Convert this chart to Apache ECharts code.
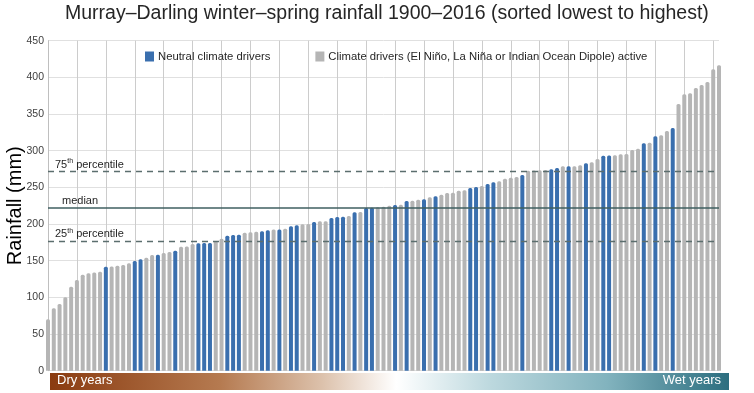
<!DOCTYPE html>
<html>
<head>
<meta charset="utf-8">
<script src="https://cdn.jsdelivr.net/npm/echarts@6/dist/echarts.min.js"></script>
<style>
html,body{margin:0;padding:0;background:#fff;}
#c{width:754px;height:393px;}
</style>
</head>
<body>
<div id="c"></div>
<script>
// Rainfall (mm), sorted lowest to highest, one value per year 1900–2016
const rainfall = [
  70, 85, 91, 100, 114.5, 123.7, 131, 133, 134, 135,
  141.8, 142, 143.2, 144.1, 146.4, 149.6, 151.9, 154.1, 157.8, 158.2,
  160.5, 162, 163.7, 169.1, 169.5, 172.8, 173.7, 174.1, 174.3, 176.9,
  180, 184.1, 185, 185.5, 188.2, 188.7, 189.6, 190, 191.4, 192.5,
  192.7, 193.7, 197, 198.3, 199.6, 200, 202.8, 203.7, 203.9, 208.2,
  209.6, 209.8, 211, 216, 216.4, 221.9, 222.3, 222.8, 223.7, 225,
  226, 226.3, 231.4, 231.8, 233.2, 233.7, 236.4, 237.8, 240, 242.3,
  242.7, 245.5, 246, 249.1, 250.5, 251.9, 254.6, 256.9, 258.3, 261.8,
  263.2, 264.1, 266.9, 272.7, 272.9, 273.2, 273.7, 274.6, 276.4, 278.7,
  278.8, 278.9, 280, 282.8, 284.2, 288.7, 293.2, 293.4, 293.7, 295.1,
  295.5, 301, 302.8, 310.1, 310.9, 319.6, 321, 326.9, 331, 363.7,
  376.9, 378.3, 385.5, 389.6, 393.7, 411, 416.5
];
// N = neutral climate drivers, A = climate drivers active
const driver = [
  'A','A','A','A','A','A','A','A','A','A',
  'N','A','A','A','A','N','N','A','A','N',
  'A','A','N','A','A','A','N','N','N','A',
  'A','N','N','N','A','A','A','N','N','A',
  'N','A','N','N','A','A','N','A','A','N',
  'N','N','A','N','A','N','N','A','A','A',
  'N','A','N','A','A','N','A','N','A','A',
  'A','A','A','N','N','A','N','N','A','A',
  'A','A','N','A','A','A','A','N','N','A',
  'N','A','A','N','A','A','N','N','A','A',
  'A','A','A','N','A','N','A','A','N','A',
  'A','A','A','A','A','A','A'
];
const ranks = rainfall.map((v, i) => String(i + 1));
const seriesNames = ['Neutral climate drivers', 'Climate drivers (El Niño, La Niña or Indian Ocean Dipole) active'];
const percentiles = [177, 222, 272.3]; // 25th, median, 75th
const yTicks = [0, 450, 50]; // min, max, interval

const neutralData = rainfall.map((v, i) => driver[i] === 'N' ? v : '-');
const activeData = rainfall.map((v, i) => driver[i] === 'A' ? v : '-');

const FONT = 'Liberation Sans, Arial, sans-serif';
const chart = echarts.init(document.getElementById('c'), null, {renderer: 'canvas'});

const labelRich = {
  a: {fontSize: 11, color: '#262626', fontFamily: FONT},
  s: {fontSize: 7, color: '#262626', fontFamily: FONT, verticalAlign: 'top', padding: [0, 0, 6, 0]}
};

chart.setOption({
  animation: false,
  backgroundColor: '#ffffff',
  title: {
    text: 'Murray–Darling winter–spring rainfall 1900–2016 (sorted lowest to highest)',
    left: 65, top: 4, padding: 0,
    textStyle: {fontSize: 19.5, fontWeight: 'normal', color: '#262626', fontFamily: FONT}
  },
  legend: {
    data: seriesNames,
    left: 145, top: 51, padding: 0,
    itemWidth: 9, itemHeight: 10, itemGap: 45,
    icon: 'rect',
    textStyle: {fontSize: 11.3, color: '#262626', fontFamily: FONT, padding: [0, 0, 0, -1]}
  },
  grid: {left: 48, right: 35, top: 40.7, bottom: 22.3, containLabel: false, outerBoundsMode: 'none'},
  xAxis: {
    type: 'category',
    data: ranks,
    boundaryGap: false,
    axisLine: {show: false},
    axisTick: {show: false},
    axisLabel: {show: false},
    splitLine: {show: true, interval: (i) => i % 5 === 0, lineStyle: {color: '#cccccc', width: 1}}
  },
  yAxis: {
    type: 'value',
    min: yTicks[0], max: yTicks[1], interval: yTicks[2],
    name: 'Rainfall (mm)',
    nameLocation: 'middle',
    nameGap: 23,
    nameMoveOverlap: false,
    nameTextStyle: {fontSize: 20, color: '#000', fontFamily: FONT},
    axisLine: {show: true, lineStyle: {color: '#bfbfbf'}},
    axisTick: {show: false},
    axisLabel: {fontSize: 10.5, color: '#404040', fontFamily: FONT, margin: 4},
    splitLine: {lineStyle: {color: '#e0e0e0', width: 1}}
  },
  series: [
    {
      name: seriesNames[0], type: 'bar', data: neutralData,
      barWidth: 4, barGap: '-100%',
      itemStyle: {color: '#3a6fae', borderRadius: [1.5, 1.5, 0, 0]}
    },
    {
      name: seriesNames[1], type: 'bar', data: activeData,
      barWidth: 4, barGap: '-100%',
      itemStyle: {color: '#b5b5b5', borderRadius: [1.5, 1.5, 0, 0]},
      markLine: {
        silent: true, symbol: 'none',
        data: [
          {yAxis: percentiles[2], lineStyle: {type: [6, 5], color: '#5b6e6e', width: 1.3},
           label: {formatter: '{a|75}{s|th}{a| percentile}', position: 'insideStartTop', distance: [7, 0], rich: labelRich}},
          {yAxis: percentiles[1], lineStyle: {type: 'solid', color: '#3f5f60', width: 1.5},
           label: {formatter: '{a|median}', position: 'insideStartTop', distance: [14, 1], rich: labelRich}},
          {yAxis: percentiles[0], lineStyle: {type: [6, 5], color: '#5b6e6e', width: 1.3},
           label: {formatter: '{a|25}{s|th}{a| percentile}', position: 'insideStartTop', distance: [7, 0], rich: labelRich}}
        ]
      }
    }
  ],
  graphic: [
    {
      type: 'rect', left: 50, top: 373, z: 10,
      shape: {width: 679, height: 17},
      style: {
        fill: new echarts.graphic.LinearGradient(0, 0, 1, 0, [
          {offset: 0, color: '#8a3b10'},
          {offset: 0.25, color: '#b57a50'},
          {offset: 0.4, color: '#dcc1ab'},
          {offset: 0.51, color: '#ffffff'},
          {offset: 0.65, color: '#bcd8de'},
          {offset: 0.82, color: '#82b3be'},
          {offset: 1, color: '#2c6e7f'}
        ])
      }
    },
    {
      type: 'text', left: 57, top: 374, z: 11,
      style: {text: 'Dry years', fill: '#ffffff', fontSize: 13, fontFamily: FONT}
    },
    {
      type: 'text', right: 33, top: 374, z: 11,
      style: {text: 'Wet years', fill: '#ffffff', fontSize: 13, fontFamily: FONT}
    }
  ]
});
</script>
</body>
</html>
